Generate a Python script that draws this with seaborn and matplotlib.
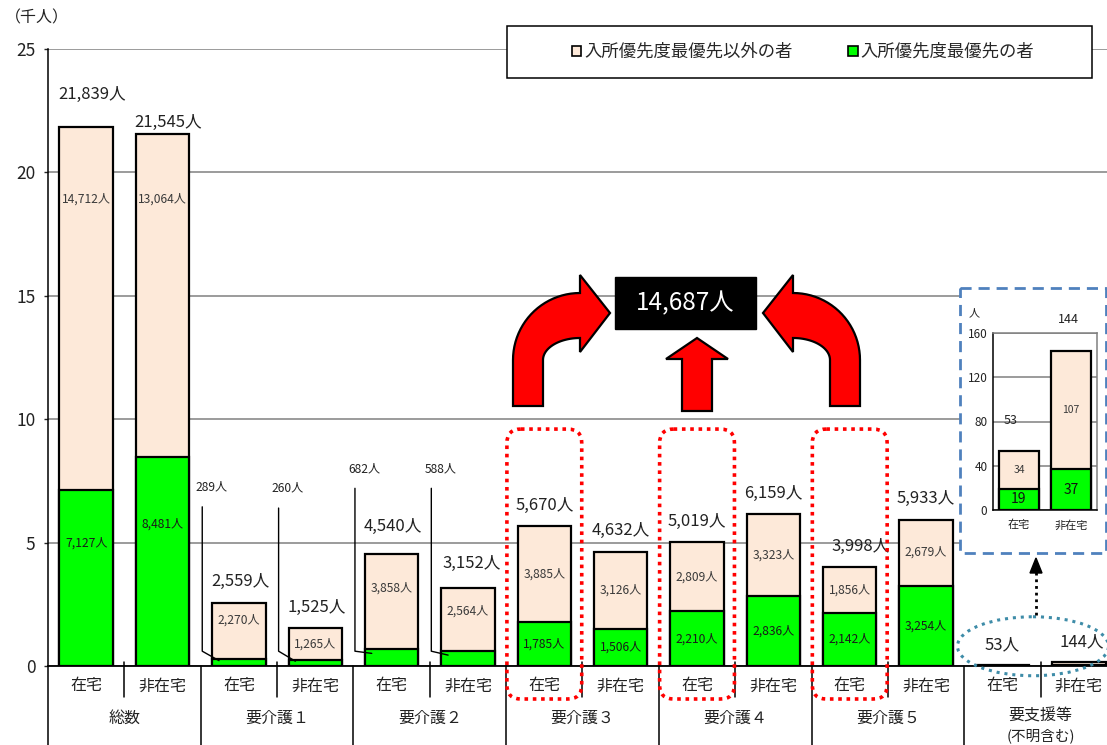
import matplotlib
matplotlib.use("Agg")
import matplotlib.pyplot as plt
import matplotlib.transforms as mtransforms
from matplotlib.patches import Rectangle, Polygon, FancyBboxPatch, Ellipse, Patch
from matplotlib.lines import Line2D
import numpy as np
import pandas as pd
import seaborn as sns

# ---------------- data ----------------
groups = ["総数", "要介護１", "要介護２", "要介護３", "要介護４", "要介護５", "要支援等"]
group_note = "(不明含む)"
subs = ["在宅", "非在宅"]
green_vals = [7127, 8481, 289, 260, 682, 588, 1785, 1506, 2210, 2836, 2142, 3254, 19, 37]
other_vals = [14712, 13064, 2270, 1265, 3858, 2564, 3885, 3126, 2809, 3323, 1856, 2679, 34, 107]
total_vals = [21839, 21545, 2559, 1525, 4540, 3152, 5670, 4632, 5019, 6159, 3998, 5933, 53, 144]
highlight_total = "14,687人"
legend_labels = ["入所優先度最優先以外の者", "入所優先度最優先の者"]
y_ticks = [0, 5, 10, 15, 20, 25]
inset_ticks = [0, 40, 80, 120, 160]

# ---------------- style ----------------
PEACH = "#FDE9D9"
GREEN = "#00FF00"
GRID = "#808080"
W, H = 1107, 745

sns.set_style("white")
plt.rcParams["font.family"] = ["Noto Sans CJK JP", "DejaVu Sans"]

fig = plt.figure(figsize=(W / 100, H / 100), dpi=100)
fig.patch.set_facecolor("white")

# main axes (extends slightly past right edge like the original)
ax = fig.add_axes([48 / W, (H - 666) / H, 1069 / W, 617 / H])

keys = [f"{g}_{s}" for g in groups for s in subs]
df = pd.DataFrame({
    "key": keys,
    "total": np.array(total_vals) / 1000.0,
    "green": np.array(green_vals) / 1000.0,
})

sns.barplot(data=df, x="key", y="total", order=keys, color=PEACH, saturation=1,
            edgecolor="black", linewidth=1.6, width=0.7, errorbar=None, ax=ax, zorder=3)
sns.barplot(data=df, x="key", y="green", order=keys, color=GREEN, saturation=1,
            edgecolor="black", linewidth=1.6, width=0.7, errorbar=None, ax=ax, zorder=4)

ax.set_xlim(-0.5, 13.5)
ax.set_ylim(0, 25)
ax.set_xlabel("")
ax.set_ylabel("")
ax.set_xticks([])
ax.set_yticks(y_ticks)
ax.set_yticklabels([str(t) for t in y_ticks], fontsize=12.5, color="#222222")
ax.tick_params(axis="y", length=3, width=1, pad=6, direction="out", left=True)
ax.yaxis.grid(True, color=GRID, linewidth=1.1)
ax.set_axisbelow(True)
for s in ["top", "right"]:
    ax.spines[s].set_visible(False)
ax.spines["left"].set_color("black")
ax.spines["bottom"].set_color("black")
ax.spines["left"].set_linewidth(1.1)
ax.spines["bottom"].set_linewidth(1.3)

# total labels above bars
total_dy = [33, 12, 21, 21, 27, 25, 21, 21, 21, 21, 21, 21, 20, 21]
total_dx = [4, 4, 1, 1, 1, 3, 0, 0, 0, 0, 8, 0, 0, 2]
for i, t in enumerate(total_vals):
    ax.annotate(f"{t:,}人", (i, t / 1000.0), xytext=(total_dx[i], total_dy[i] * 0.72),
                textcoords="offset points", ha="center", va="center",
                fontsize=12, color="#222222", zorder=6)

# segment labels
peach_frac = [0.8, 0.8, 0.69, 0.5, 0.64, 0.63, 0.5, 0.5, 0.5, 0.5, 0.5, 0.5]
green_frac = [0.7, 0.68] + [0.5] * 10
for i in range(12):
    g = green_vals[i] / 1000.0
    o = other_vals[i] / 1000.0
    ax.text(i, g + o * peach_frac[i], f"{other_vals[i]:,}人", ha="center", va="center",
            fontsize=8.7, color="#3a3a3a", zorder=6)
    if i not in (2, 3, 4, 5):
        ax.text(i, g * green_frac[i], f"{green_vals[i]:,}人", ha="center", va="center",
                fontsize=8.7, color="#1a1a1a", zorder=6)

# leader lines for the small green segments
leader_top = {2: 6.45, 3: 6.4, 4: 7.2, 5: 7.2}
for i, top in leader_top.items():
    g = green_vals[i] / 1000.0
    ax.plot([i - 0.48, i - 0.48, i - 0.26], [top, 0.6, g * 0.75], color="black",
            lw=1.0, zorder=7, clip_on=False)
    ax.text(i - 0.36, top + 0.8, f"{green_vals[i]:,}人", ha="center", va="center",
            fontsize=8.7, color="#222222", zorder=7)

# category axis below
trans = mtransforms.blended_transform_factory(ax.transData, ax.transAxes)
for i in range(14):
    ax.text(i, -0.0324, subs[i % 2], transform=trans, ha="center", va="center",
            fontsize=11.5, color="#222222", clip_on=False)
for gi, gname in enumerate(groups):
    if gi < 6:
        ax.text(2 * gi + 0.5, -0.084, gname, transform=trans, ha="center", va="center",
                fontsize=11.5, color="#222222", clip_on=False)
    else:
        ax.text(2 * gi + 0.5, -0.081, gname, transform=trans, ha="center", va="center",
                fontsize=11.5, color="#222222", clip_on=False)
        ax.text(2 * gi + 0.5, -0.113, group_note, transform=trans, ha="center", va="center",
                fontsize=10.5, color="#222222", clip_on=False)
for b in np.arange(-0.5, 13, 2.0):
    ax.add_line(Line2D([b, b], [0, -0.135], transform=trans, color="black", lw=1.1, clip_on=False))
for b in np.arange(0.5, 14, 2.0):
    ax.add_line(Line2D([b, b], [0.007, -0.05], transform=trans, color="black", lw=1.1, clip_on=False))

fig.text(5 / W, 1 - 18 / H, "（千人）", ha="left", va="center", fontsize=11.5, color="#222222")

# ---------------- overlay (pixel coordinates, y down) ----------------
ov = fig.add_axes([0, 0, 1, 1], zorder=5)
ov.set_xlim(0, W)
ov.set_ylim(H, 0)
ov.axis("off")
ov.patch.set_alpha(0)


def to_px(x, y):
    dx, dy = ax.transData.transform((x, y))
    return dx, H - dy


# legend box
ov.add_patch(Rectangle((507, 26), 585, 52, facecolor="white", edgecolor="black", lw=1.1, zorder=2))
handles = [Patch(facecolor=PEACH, edgecolor="black", lw=1.2),
           Patch(facecolor=GREEN, edgecolor="black", lw=1.2)]
leg = ov.legend(handles, legend_labels, loc="center", bbox_to_anchor=(803, 52),
                bbox_transform=ov.transData, ncol=2, frameon=False, fontsize=12.5,
                handlelength=0.55, handleheight=0.55, handletextpad=0.15, columnspacing=3.2)
leg.set_zorder(3)

# red dotted highlight boxes
for i in (6, 8, 10):
    x0, ytop = to_px(i - 0.49, 9.6)
    x1, _ = to_px(i + 0.49, 0)
    ybot = 699
    ov.add_patch(FancyBboxPatch((x0 + 12, ytop + 12), (x1 - x0) - 24, (ybot - ytop) - 24,
                                boxstyle="round,pad=12,rounding_size=14",
                                facecolor="none", edgecolor="#FF0000", lw=2.6,
                                linestyle=(0, (1, 1.3)), zorder=4))

# arrows
def arc(cx, cy, rx, ry, t0, t1, n=24):
    t = np.radians(np.linspace(t0, t1, n))
    return list(zip(cx + rx * np.cos(t), cy - ry * np.sin(t)))

left_arrow = ([(513, 406), (513, 360)] + arc(580, 360, 67, 67, 180, 90) +
              [(580, 275), (610, 313), (580, 352), (580, 338)] +
              arc(580, 360, 37, 22, 90, 180) + [(543, 406)])
xm = 686.5
right_arrow = [(2 * xm - x, y) for x, y in left_arrow]
up_arrow = [(682, 411), (682, 359), (666, 359), (697, 338), (728, 359), (712, 359), (712, 411)]
for pts in (left_arrow, right_arrow, up_arrow):
    ov.add_patch(Polygon(pts, closed=True, facecolor="#FF0000", edgecolor="black", lw=1.6,
                         joinstyle="miter", zorder=5))

ov.add_patch(Rectangle((615, 277), 141, 52, facecolor="black", edgecolor="black", zorder=5))
ov.text(685.5, 303, highlight_total, ha="center", va="center", color="white",
        fontsize=17.5, zorder=6)

# teal ellipse around 要支援等 and dotted arrow
ecx, ecy = to_px(12.4, 0.8)
ov.add_patch(Ellipse((ecx, ecy), 151, 59, facecolor="none", edgecolor="#3E8CA8", lw=2.2,
                     linestyle=(0, (1, 1.6)), zorder=4))
ov.plot([1036, 1036], [615, 572], color="black", lw=2, linestyle=(0, (1, 1.4)), zorder=4)
ov.add_patch(Polygon([(1030, 573), (1042, 573), (1036, 558)], closed=True,
                     facecolor="black", edgecolor="black", zorder=4))

# inset frame
ov.add_patch(Rectangle((960, 288), 146, 265, facecolor="white", edgecolor="#4F81BD", lw=2,
                       linestyle=(0, (4, 2.5)), zorder=3))

# ---------------- inset axes ----------------
ax2 = fig.add_axes([993 / W, (H - 510) / H, 104 / W, 177 / H], zorder=6)
df2 = pd.DataFrame({"sub": subs, "total": total_vals[12:], "green": green_vals[12:]})
sns.barplot(data=df2, x="sub", y="total", order=subs, color=PEACH, saturation=1,
            edgecolor="black", linewidth=1.6, width=0.77, errorbar=None, ax=ax2, zorder=3)
sns.barplot(data=df2, x="sub", y="green", order=subs, color=GREEN, saturation=1,
            edgecolor="black", linewidth=1.6, width=0.77, errorbar=None, ax=ax2, zorder=4)
ax2.set_xlim(-0.5, 1.5)
ax2.set_ylim(0, 160)
ax2.set_xlabel("")
ax2.set_ylabel("")
ax2.set_yticks(inset_ticks)
ax2.set_yticklabels([str(t) for t in inset_ticks], fontsize=8.5, color="#222222")
ax2.tick_params(axis="y", length=0, pad=4)
ax2.tick_params(axis="x", length=0, pad=7, labelsize=8, labelcolor="#222222")
ax2.yaxis.grid(True, color=GRID, linewidth=1.1)
ax2.set_axisbelow(True)
ax2.spines["left"].set_color("black")
ax2.spines["bottom"].set_color("black")
ax2.spines["top"].set_color(GRID)
ax2.spines["right"].set_color(GRID)
for s in ax2.spines.values():
    s.set_linewidth(1.1)
ax2.patch.set_facecolor("white")

inset_dx = [-0.17, -0.05]
for i in range(2):
    g = green_vals[12 + i]
    o = other_vals[12 + i]
    t = total_vals[12 + i]
    ax2.text(i + inset_dx[i], t + 28, f"{t}", ha="center", va="center", fontsize=9,
             color="#222222", clip_on=False, zorder=6)
    ax2.text(i, g + o / 2, f"{o}", ha="center", va="center", fontsize=7.5,
             color="#3a3a3a", zorder=6)
    ax2.text(i, g / 2, f"{g}", ha="center", va="center", fontsize=10,
             color="#111111", zorder=6)
ax2.text(-0.18, 1.11, "人", transform=ax2.transAxes, ha="center", va="center",
         fontsize=8, color="#222222")

fig.savefig("out.png", dpi=100, facecolor="white")
